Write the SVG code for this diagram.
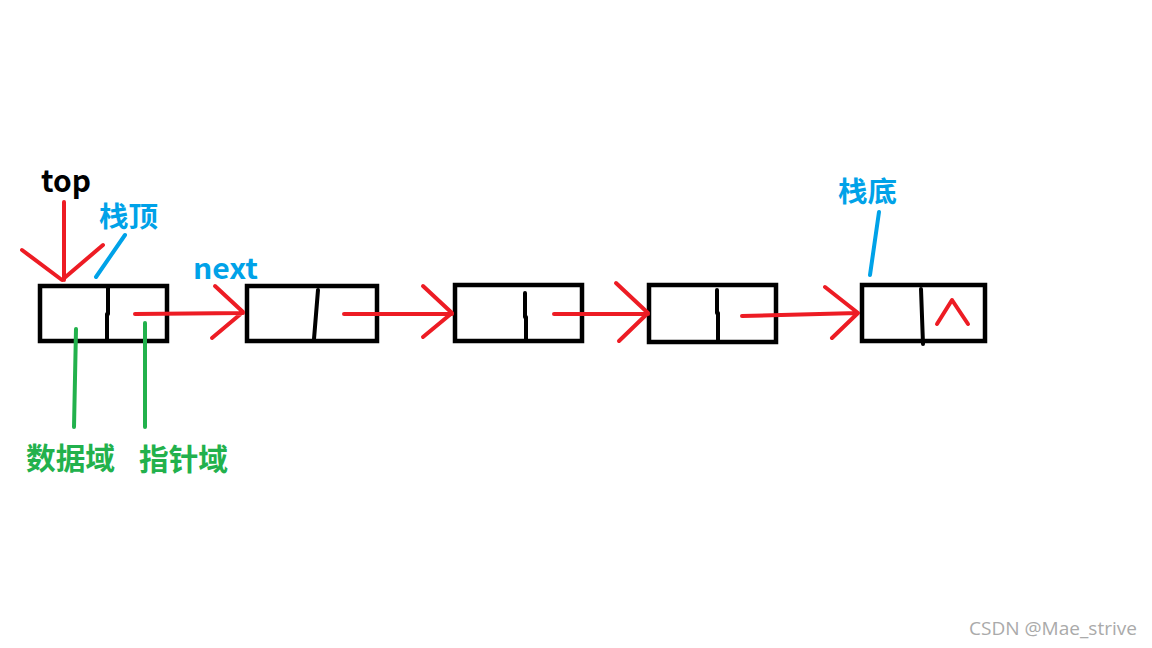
<svg xmlns="http://www.w3.org/2000/svg" width="1152" height="648" viewBox="0 0 1152 648">
<style>
.box{fill:none;stroke:#000;stroke-width:4.5}
.div{fill:none;stroke:#000;stroke-width:4;stroke-linecap:round}
.red{fill:none;stroke:#ED1C24;stroke-width:4;stroke-linecap:round;stroke-linejoin:round}
.blue{fill:none;stroke:#00A2E8;stroke-width:4;stroke-linecap:round}
.green{fill:none;stroke:#22B14C;stroke-width:4;stroke-linecap:round}
.t{font-family:"Noto Sans CJK SC","Liberation Sans",sans-serif;font-weight:bold}
</style>
<rect width="1152" height="648" fill="#fff"/>
<g id="node1"><rect class="box" x="40" y="286" width="127" height="55"/><path class="div" d="M108,288 V314 M107,314 V340"/></g>
<g id="node2"><rect class="box" x="247" y="286" width="130" height="55"/><path class="div" d="M318,290 L314,339"/></g>
<g id="node3"><rect class="box" x="455" y="285" width="127" height="56"/><path class="div" d="M525,293 V317 M526,317 V340"/></g>
<g id="node4"><rect class="box" x="649" y="285" width="127" height="57"/><path class="div" d="M717,290 V313 M718,313 V340"/></g>
<g id="node5"><rect class="box" x="862" y="285" width="123" height="56"/><path class="div" d="M921,289 L923,344"/><path class="red" d="M937,324 L952,300 L968,324"/></g>
<g id="connectors">
<path class="red" d="M64,202 V280 M22,250 L62,280 L103,245"/>
<path class="red" d="M135,314 L243,313 M215,286 L243,312 L212,338"/>
<path class="red" d="M344,314 L452,314 M423,286 L452,313 L423,337"/>
<path class="red" d="M554,314 L648,314 M616,283 L648,313 L619,341"/>
<path class="red" d="M742,316 L858,313 M825,287 L858,313 L832,338"/>
<path class="blue" d="M125,235 L96,277"/>
<path class="blue" d="M879,212 L870,275"/>
<path class="green" d="M76,329 L74,427"/>
<path class="green" d="M145,323 L145,427"/>
</g>
<text class="t" x="41" y="192" font-size="30" fill="#000" textLength="50" lengthAdjust="spacingAndGlyphs">top</text>
<text class="t" x="99" y="227" font-size="28" fill="#00A2E8" textLength="59" lengthAdjust="spacingAndGlyphs">栈顶</text>
<text class="t" x="193" y="279" font-size="28" fill="#00A2E8" textLength="65" lengthAdjust="spacingAndGlyphs">next</text>
<text class="t" x="838" y="202" font-size="28" fill="#00A2E8" textLength="59" lengthAdjust="spacingAndGlyphs">栈底</text>
<text class="t" x="26" y="469" font-size="30" fill="#22B14C" textLength="89" lengthAdjust="spacingAndGlyphs">数据域</text>
<text class="t" x="139" y="470" font-size="30" fill="#22B14C" textLength="89" lengthAdjust="spacingAndGlyphs">指针域</text>
<text x="969" y="635" font-family="Open Sans, sans-serif" font-size="19" fill="#aaa" textLength="168" lengthAdjust="spacingAndGlyphs">CSDN @Mae_strive</text>
</svg>
